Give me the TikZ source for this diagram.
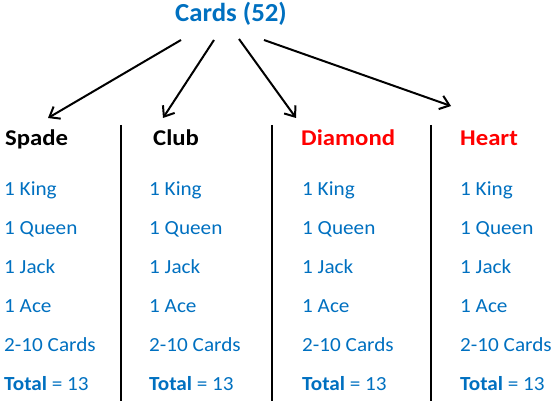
\documentclass[tikz,border=0pt]{standalone}
\usepackage{fontspec}
\setmainfont{Carlito}
\newfontfamily\itemfont[FakeStretch=1.06]{Carlito}
\newfontfamily\headfont[FakeStretch=1.1]{Carlito}
\newfontfamily\titlefont[FakeStretch=1.03]{Carlito}
\usetikzlibrary{arrows.meta}
\definecolor{cblue}{HTML}{0070C0}
\definecolor{cred}{HTML}{FF0000}
\tikzset{
  title/.style={font=\titlefont\fontsize{26}{28}\selectfont\bfseries, text=cblue, inner sep=0pt},
  head/.style={font=\headfont\fontsize{22.5}{24}\selectfont\bfseries, anchor=base west, inner sep=0pt},
  item/.style={font=\itemfont\fontsize{20}{22}\selectfont, text=cblue, anchor=base west, inner sep=0pt},
  sep/.style={line width=2.2pt},
  arr/.style={line width=2pt, -{Straight Barb[length=9pt,width=14pt,line width=2pt]}}
}
\begin{document}
\begin{tikzpicture}[x=1pt,y=-1pt]
\useasboundingbox (0,0) rectangle (557,401);
\node[title] (cards) at (231,14) {Cards (52)};
\coordinate (s1) at (181,40);
\coordinate (s2) at (214,40);
\coordinate (s3) at (239,39);
\coordinate (s4) at (264,40);
\coordinate (e1) at (48,118);
\coordinate (e2) at (163,118);
\coordinate (e3) at (296,118);
\coordinate (e4) at (451,106);
\draw[arr] (s1) -- (e1);
\draw[arr] (s2) -- (e2);
\draw[arr] (s3) -- (e3);
\draw[arr] (s4) -- (e4);
\coordinate (v1a) at (121,125); \coordinate (v1b) at (121,401);
\coordinate (v2a) at (272,125); \coordinate (v2b) at (272,401);
\coordinate (v3a) at (431,125); \coordinate (v3b) at (431,401);
\draw[sep] (v1a) -- (v1b);
\draw[sep] (v2a) -- (v2b);
\draw[sep] (v3a) -- (v3b);
\node[head] (spade) at (5,146) {Spade};
\node[head] (club) at (153,146) {Club};
\node[head, text=cred] (diamond) at (301,146) {Diamond};
\node[head, text=cred] (heart) at (460,146) {Heart};
\foreach \x/\n in {4/a,149/b,302/c,460/d}{
  \node[item] (k\n) at (\x,195) {1 King};
  \node[item] (q\n) at (\x,234) {1 Queen};
  \node[item] (j\n) at (\x,273) {1 Jack};
  \node[item] (a\n) at (\x,312) {1 Ace};
  \node[item] (c\n) at (\x,351) {2-10 Cards};
  \node[item] (t\n) at (\x,390) {\textbf{Total} = 13};
}
\end{tikzpicture}
\end{document}
